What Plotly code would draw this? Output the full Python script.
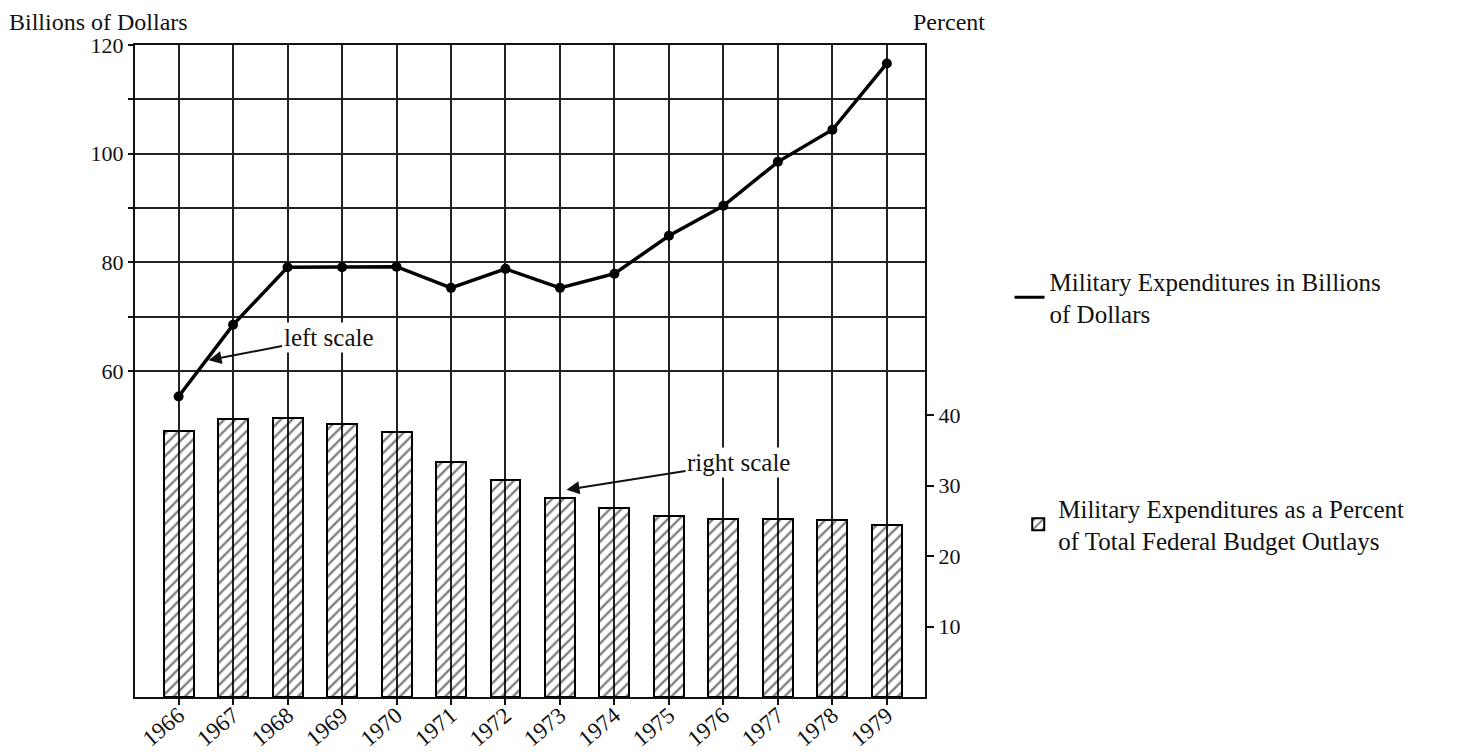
import plotly.graph_objects as go

years = [1966, 1967, 1968, 1969, 1970, 1971, 1972, 1973, 1974, 1975, 1976, 1977, 1978, 1979]
military_billions = [55.3, 68.5, 79.1, 79.1, 79.2, 75.3, 78.8, 75.3, 77.9, 84.9, 90.4, 98.5, 104.4, 116.6]
military_pct = [37.7, 39.4, 39.6, 38.7, 37.6, 33.3, 30.8, 28.3, 26.8, 25.7, 25.3, 25.2, 25.1, 24.4]
left_ticks = [60, 70, 80, 90, 100, 110, 120]
left_labels = ["60", "", "80", "", "100", "", "120"]
right_ticks = [10, 20, 30, 40]
right_labels = ["10", "20", "30", "40"]

FONT = "Liberation Serif"
fig = go.Figure()

fig.add_trace(go.Bar(
    x=years, y=military_pct, yaxis="y2", width=0.55,
    marker=dict(color="rgba(0,0,0,0)", line=dict(color="black", width=2),
                pattern=dict(shape="/", fgcolor="black", size=8, solidity=0.3, fillmode="overlay")),
    name="Military Expenditures as a Percent<br>of Total Federal Budget Outlays",
    legend="legend2", showlegend=True,
))

fig.add_trace(go.Scatter(
    x=years, y=military_billions, mode="lines+markers",
    line=dict(color="black", width=3.5), marker=dict(color="black", size=10),
    showlegend=False,
))
fig.add_trace(go.Scatter(
    x=[None], y=[None], mode="lines", line=dict(color="black", width=3),
    name="Military Expenditures in Billions<br>of Dollars", legend="legend", showlegend=True,
))

fig.update_layout(
    width=1478, height=752,
    margin=dict(l=127, r=561, t=37, b=63),
    paper_bgcolor="white", plot_bgcolor="white",
    font=dict(family=FONT, size=22, color="#111"),
    bargap=0,
    xaxis=dict(range=[1965.2, 1979.7], tickvals=years, ticktext=[str(y) for y in years],
               tickangle=-40, showgrid=True, gridcolor="#222", gridwidth=1.5,
               showline=True, linecolor="#111", linewidth=2, mirror=True,
               ticks="outside", ticklen=6, tickcolor="#111", tickwidth=1.5,
               ticklabelstandoff=-12,
               zeroline=False, tickfont=dict(size=23), automargin=False),
    yaxis=dict(range=[0, 120], tickvals=left_ticks, ticktext=left_labels,
               showgrid=True, gridcolor="#222", gridwidth=1.8,
               showline=True, linecolor="#111", linewidth=2, mirror=True,
               ticks="outside", ticklen=5, tickcolor="#111", tickwidth=1.5,
               zeroline=False, tickfont=dict(size=22), automargin=False),
    yaxis2=dict(range=[0, 92.5], overlaying="y", side="right", tickvals=right_ticks,
                ticktext=right_labels, showgrid=False, zeroline=False,
                ticks="outside", ticklen=8, tickcolor="#111", tickwidth=1.5,
                showline=False, tickfont=dict(size=22), automargin=False),
    legend=dict(x=1.107, y=0.613, xanchor="left", yanchor="middle",
                font=dict(size=25, family=FONT), bgcolor="rgba(0,0,0,0)"),
    legend2=dict(x=1.118, y=0.265, xanchor="left", yanchor="middle",
                 font=dict(size=25, family=FONT), bgcolor="rgba(0,0,0,0)"),
)

fig.add_annotation(xref="paper", yref="paper", x=-0.161, y=1.0567, xanchor="left", yanchor="top",
                   text="Billions of Dollars", showarrow=False, font=dict(size=24, family=FONT),
                   borderpad=0)
fig.add_annotation(xref="paper", yref="paper", x=1.030, y=1.0567, xanchor="center", yanchor="top",
                   text="Percent", showarrow=False, font=dict(size=24, family=FONT),
                   borderpad=0)

fig.add_annotation(x=1966.55, y=62.0, xref="x", yref="y", text="left scale",
                   ax=120, ay=-23, showarrow=True, arrowhead=2, arrowsize=1.3, arrowwidth=2,
                   arrowcolor="#111", font=dict(size=25, family=FONT), bgcolor="white")
fig.add_annotation(x=1973.12, y=29.4, xref="x", yref="y2", text="right scale",
                   ax=172, ay=-27, showarrow=True, arrowhead=2, arrowsize=1.3, arrowwidth=2,
                   arrowcolor="#111", font=dict(size=25, family=FONT), bgcolor="white")

fig.write_html("out.html")
